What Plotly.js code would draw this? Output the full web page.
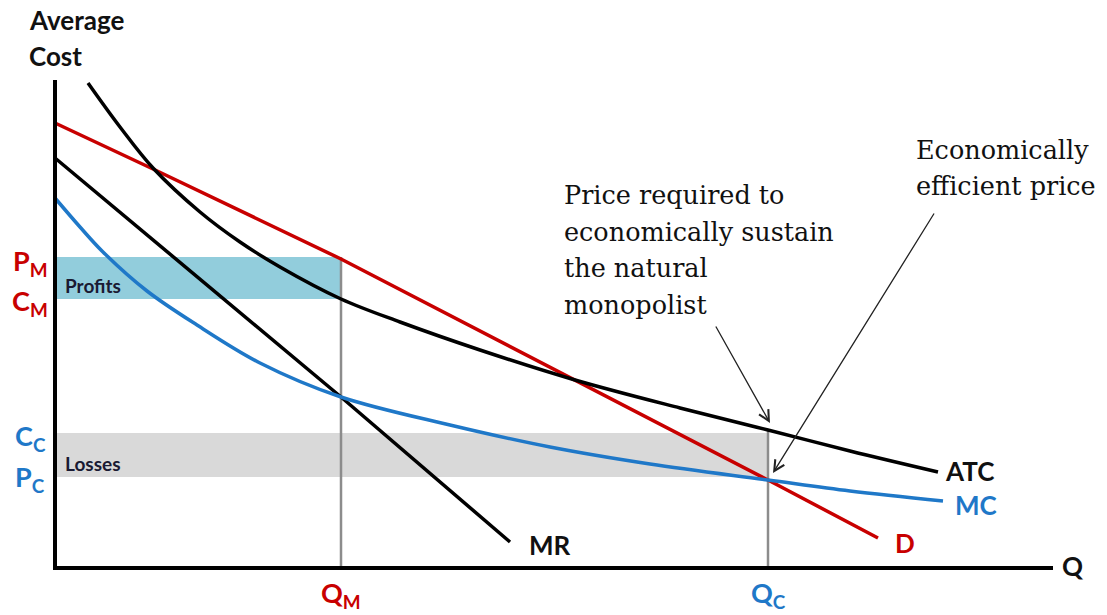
<!DOCTYPE html>
<html>
<head>
<meta charset="utf-8">
<script src="https://cdn.plot.ly/plotly-3.0.1.min.js"></script>
<style>html,body{margin:0;padding:0;background:#fff;}#chart{width:1107px;height:615px;}</style>
</head>
<body>
<div id="chart"></div>
<script>
// Quantity / price values (arbitrary units)
const demandQ = [0, 98, 286, 520, 713, 823];
const demandP = [445, 399, 309, 188, 88, 30];

const mrQ = [0, 286, 455];
const mrP = [410, 171, 26];

const mcQ = [0, 25, 48, 92, 142, 205, 286, 395, 495, 595, 713, 795, 888];
const mcP = [370, 341, 316, 277, 243, 205, 171, 143, 121, 104, 88, 77, 67];

const atcQ = [33, 65, 98, 145, 185, 225, 286, 345, 425, 520, 625, 713, 795, 883];
const atcP = [485, 441, 400, 356, 326, 301, 269, 246, 218, 188, 160, 138, 117, 96];

// key levels
const QM = 286, QC = 713;
const PM = 311, CM = 269, CC = 135, PC = 91;
const axisTopP = 488, axisEndQ = 998;

// annotation text
const note1Lines = ['Price required to', 'economically sustain', 'the natural', 'monopolist'];
const note2Lines = ['Economically', 'efficient price'];

const red = '#c80000', blue = '#1f78c8', black = '#000000', gray = '#8c8c8c';
const sans = 'Lato, "Open Sans", sans-serif';
const serif = '"DejaVu Serif", "Liberation Serif", serif';

const traces = [
  {x: demandQ, y: demandP, mode: 'lines', line: {color: red, width: 3.5}},
  {x: mrQ, y: mrP, mode: 'lines', line: {color: black, width: 3.5}},
  {x: mcQ, y: mcP, mode: 'lines', line: {color: blue, width: 3.5, shape: 'spline', smoothing: 1}},
  {x: atcQ, y: atcP, mode: 'lines', line: {color: black, width: 3.5, shape: 'spline', smoothing: 1}}
];

const shapes = [
  {type: 'rect', layer: 'below', x0: 0, x1: QM, y0: CM, y1: PM, fillcolor: '#92cddc', line: {width: 0}},
  {type: 'rect', layer: 'below', x0: 0, x1: QC, y0: PC, y1: CC, fillcolor: '#d9d9d9', line: {width: 0}},
  {type: 'line', layer: 'below', x0: QM, x1: QM, y0: 0, y1: PM, line: {color: gray, width: 2.5}},
  {type: 'line', layer: 'below', x0: QC, x1: QC, y0: 0, y1: CC + 3, line: {color: gray, width: 2.5}},
  {type: 'line', x0: 0, x1: 0, y0: -2, y1: axisTopP, line: {color: black, width: 4}},
  {type: 'line', x0: -2, x1: axisEndQ, y0: 0, y1: 0, line: {color: black, width: 4}}
];

function lab(x, y, text, color, size, xanchor) {
  return {x: x, y: y, text: text, showarrow: false, xanchor: xanchor || 'center', yanchor: 'middle',
    font: {family: sans, size: size, color: color, weight: 'bold'}};
}
function note(x, y, text) {
  return {x: x, y: y, text: text, showarrow: false, xanchor: 'left', yanchor: 'middle',
    font: {family: serif, size: 25.5, color: '#111'}};
}

const annotations = [
  lab(-28, 548, 'Average', '#111', 26, 'left'),
  lab(-28, 512, 'Cost', '#111', 26, 'left'),
  lab(-25, 306, 'P<sub>M</sub>', red, 27),
  lab(-25, 266, 'C<sub>M</sub>', red, 27),
  lab(-25, 131, 'C<sub>C</sub>', blue, 27),
  lab(-25, 90, 'P<sub>C</sub>', blue, 27),
  lab(QM, -26, 'Q<sub>M</sub>', red, 27),
  lab(QC, -26, 'Q<sub>C</sub>', blue, 27),
  lab(8, 283, 'Profits', '#1a1a33', 19, 'left'),
  lab(8, 105, 'Losses', '#1a1a33', 19, 'left'),
  lab(472, 23, 'MR', '#111', 26, 'left'),
  lab(888, 97, 'ATC', '#111', 26, 'left'),
  lab(898, 63, 'MC', blue, 26, 'left'),
  lab(838, 25, 'D', red, 26, 'left'),
  lab(1005, 2, 'Q', '#111', 26, 'left'),
  note(507, 373, note1Lines[0]),
  note(507, 336, note1Lines[1]),
  note(507, 300, note1Lines[2]),
  note(507, 263, note1Lines[3]),
  note(859, 418, note2Lines[0]),
  note(859, 382, note2Lines[1]),
  {x: 715, y: 145, ax: 660, ay: 243, axref: 'x', ayref: 'y', xref: 'x', yref: 'y', text: '', showarrow: true,
   arrowhead: 5, arrowsize: 1.6, arrowwidth: 1.3, arrowcolor: '#222', standoff: 0},
  {x: 718, y: 95, ax: 880, ay: 356, axref: 'x', ayref: 'y', xref: 'x', yref: 'y', text: '', showarrow: true,
   arrowhead: 5, arrowsize: 1.6, arrowwidth: 1.3, arrowcolor: '#222', standoff: 0}
];

const layout = {
  width: 1107, height: 615,
  margin: {l: 0, r: 0, t: 0, b: 0},
  paper_bgcolor: '#fff', plot_bgcolor: '#fff',
  showlegend: false,
  xaxis: {range: [-55, 1052], visible: false, fixedrange: true},
  yaxis: {range: [-47, 568], visible: false, fixedrange: true},
  shapes: shapes,
  annotations: annotations
};

Plotly.newPlot('chart', traces, layout, {displayModeBar: false, staticPlot: true});
</script>
</body>
</html>
